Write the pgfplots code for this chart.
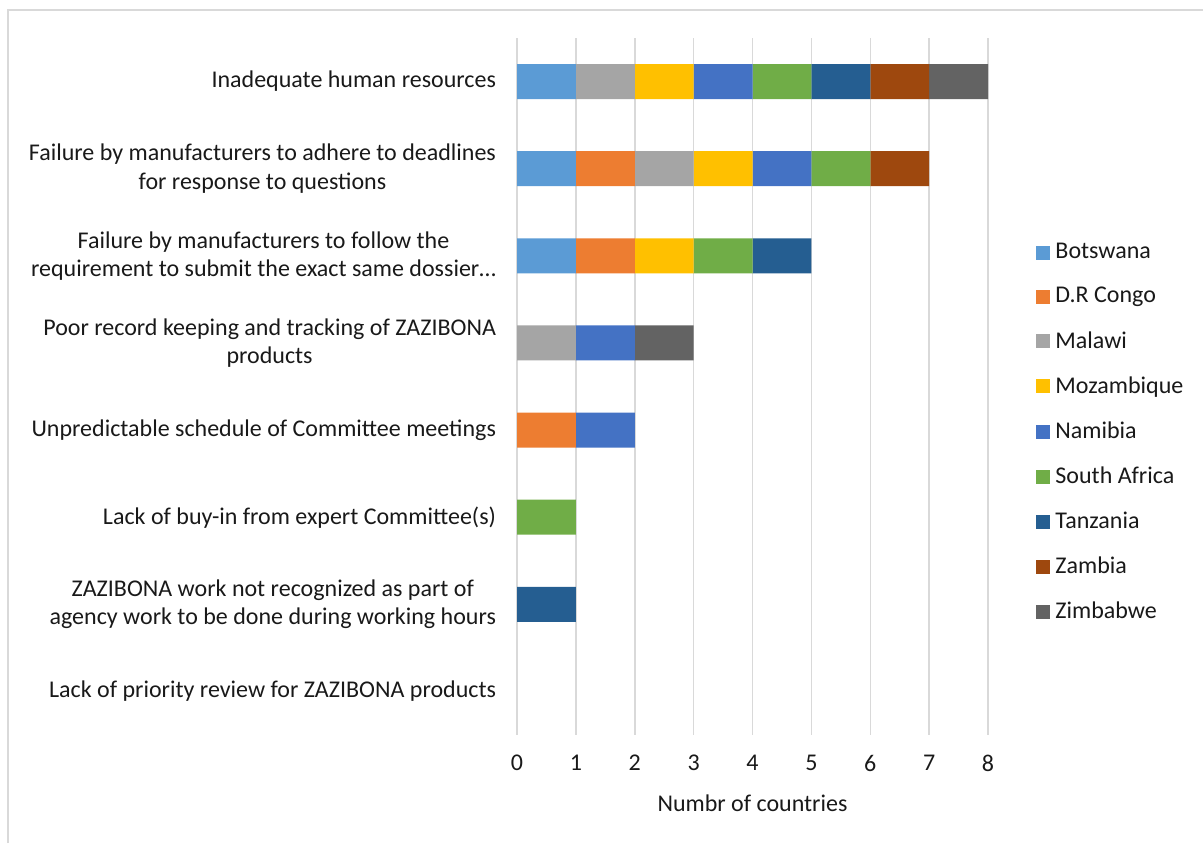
\documentclass[border=0pt]{standalone}
\usepackage{pgfplots}
\pgfplotsset{compat=1.18}
\usepackage{fontspec}
\setmainfont{Carlito}
\definecolor{cBot}{HTML}{5B9BD5}
\definecolor{cDRC}{HTML}{ED7D31}
\definecolor{cMal}{HTML}{A5A5A5}
\definecolor{cMoz}{HTML}{FFC000}
\definecolor{cNam}{HTML}{4472C4}
\definecolor{cSA}{HTML}{70AD47}
\definecolor{cTan}{HTML}{255E91}
\definecolor{cZam}{HTML}{9E480E}
\definecolor{cZim}{HTML}{636363}
\definecolor{gridc}{HTML}{D9D9D9}
\begin{document}
\begin{tikzpicture}
\path[use as bounding box] (0,0) rectangle (601.5pt,-421.5pt);
\draw[gridc, line width=1pt] (4pt,-421.5pt) -- (4pt,-5pt) -- (601.5pt,-5pt);
\begin{axis}[
  at={(258.5pt,-367.5pt)}, anchor=south west,
  scale only axis, width=235.5pt, height=348.5pt,
  xbar stacked, bar width=17.5pt,
  xmin=0, xmax=8, ymin=-0.5, ymax=7.5, y dir=reverse,
  xtick={0,...,8}, ytick={0,...,7},
  yticklabels={
    {Inadequate human resources},
    {Failure by manufacturers to adhere to deadlines\\for response to questions},
    {Failure by manufacturers to follow the\\requirement to submit the exact same dossier…},
    {Poor record keeping and tracking of ZAZIBONA\\products},
    {Unpredictable schedule of Committee meetings},
    {Lack of buy-in from expert Committee(s)},
    {ZAZIBONA work not recognized as part of\\agency work to be done during working hours},
    {Lack of priority review for ZAZIBONA products}},
  yticklabel style={align=center, font=\fontsize{12}{14.2}\selectfont, xshift=-7pt, text=black!90},
  xticklabel style={anchor=center, yshift=-14pt, font=\fontsize{12}{14}\selectfont, text=black!90},
  /pgf/number format/assume math mode=true,
  xlabel={Numbr of countries},
  xlabel style={font=\fontsize{12}{14}\selectfont, at={(axis description cs:0.5,0)}, anchor=center, yshift=-34pt, text=black!90},
  major tick length=0pt,
  axis line style={draw=none},
  xmajorgrids, grid style={gridc, line width=0.75pt},
  legend style={at={(axis description cs:1.102,0.713)}, anchor=north west, draw=none,
    font=\fontsize{12}{14}\selectfont, text=black!90, row sep=7.75pt, inner sep=0pt,
    nodes={inner sep=2.5pt}},
  legend cell align=left,
  legend image code/.code={\fill[#1] (0pt,-3.5pt) rectangle (7pt,3.5pt);},
]
\addplot[fill=cBot, draw=none] coordinates {(1,0) (1,1) (1,2) (0,3) (0,4) (0,5) (0,6) (0,7)};
\addlegendentry{Botswana}
\addplot[fill=cDRC, draw=none] coordinates {(0,0) (1,1) (1,2) (0,3) (1,4) (0,5) (0,6) (0,7)};
\addlegendentry{D.R Congo}
\addplot[fill=cMal, draw=none] coordinates {(1,0) (1,1) (0,2) (1,3) (0,4) (0,5) (0,6) (0,7)};
\addlegendentry{Malawi}
\addplot[fill=cMoz, draw=none] coordinates {(1,0) (1,1) (1,2) (0,3) (0,4) (0,5) (0,6) (0,7)};
\addlegendentry{Mozambique}
\addplot[fill=cNam, draw=none] coordinates {(1,0) (1,1) (0,2) (1,3) (1,4) (0,5) (0,6) (0,7)};
\addlegendentry{Namibia}
\addplot[fill=cSA, draw=none] coordinates {(1,0) (1,1) (1,2) (0,3) (0,4) (1,5) (0,6) (0,7)};
\addlegendentry{South Africa}
\addplot[fill=cTan, draw=none] coordinates {(1,0) (0,1) (1,2) (0,3) (0,4) (0,5) (1,6) (0,7)};
\addlegendentry{Tanzania}
\addplot[fill=cZam, draw=none] coordinates {(1,0) (1,1) (0,2) (0,3) (0,4) (0,5) (0,6) (0,7)};
\addlegendentry{Zambia}
\addplot[fill=cZim, draw=none] coordinates {(1,0) (0,1) (0,2) (1,3) (0,4) (0,5) (0,6) (0,7)};
\addlegendentry{Zimbabwe}
\end{axis}
\end{tikzpicture}
\end{document}
